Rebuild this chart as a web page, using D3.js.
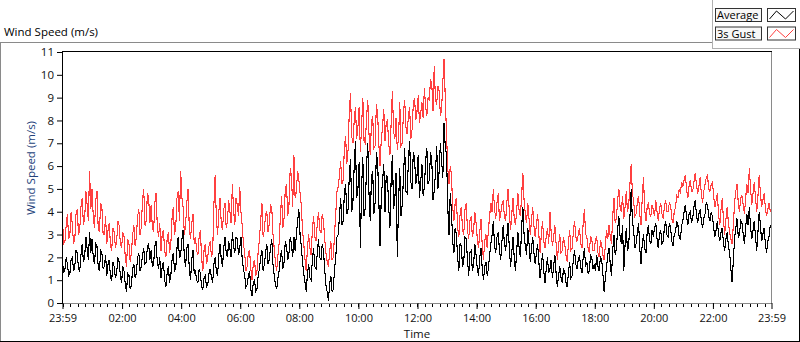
<!DOCTYPE html>
<html><head><meta charset="utf-8">
<script src="https://cdn.jsdelivr.net/npm/d3@7"></script>
<style>
body{margin:0;background:#fff;}
svg{display:block;font-family:"Open Sans","Noto Sans",sans-serif;}
</style>
</head><body><svg id="c" width="800" height="342"></svg>
<script>
// ---- data (2.5-minute samples from 23:59 to 23:59 next day, one row per hour) ----
const seriesNames = ["Average", "3s Gust"];
const average = [
1.8,1.3,1.5,2.0,1.7,1.2,1.3,1.9,2.0,1.4,1.6,2.3,2.2,1.5,1.4,2.1,2.6,1.8,2.0,2.9,2.4,1.9,3.1,2.2,
2.8,2.0,1.7,2.6,2.5,1.6,1.4,2.3,2.2,1.5,1.6,2.1,1.2,1.7,1.9,1.1,1.0,1.8,1.6,1.1,1.3,2.0,1.8,1.2,
0.9,1.6,1.4,0.8,0.5,1.3,1.2,0.6,0.8,1.5,1.7,1.1,1.3,2.0,2.2,1.4,1.6,2.1,2.4,1.7,1.8,2.5,2.6,1.9,
2.3,1.6,1.7,2.5,2.7,1.8,1.5,2.0,1.1,1.6,1.8,1.0,0.7,1.3,1.6,0.9,1.2,1.9,2.2,1.4,1.5,2.4,2.9,2.0,
2.1,2.8,3.2,2.0,1.6,2.4,2.6,1.5,1.0,1.9,2.3,1.3,1.4,1.0,0.9,1.5,1.3,0.7,0.6,1.1,1.2,0.7,0.8,1.3,
1.5,1.1,0.9,1.7,2.0,1.4,1.2,2.1,2.6,1.9,1.6,2.4,2.9,2.2,2.0,2.7,2.4,2.0,3.1,2.5,2.2,2.9,2.8,2.1,
2.4,2.9,1.9,1.5,1.2,0.7,0.8,1.2,1.4,0.6,0.3,0.9,1.0,0.5,0.6,1.2,1.5,2.0,2.3,1.4,1.7,2.2,2.6,1.7,
1.9,2.4,2.8,1.7,1.2,0.8,0.6,1.1,1.4,2.0,2.3,1.5,1.8,2.7,2.5,1.9,2.2,2.9,2.6,2.0,2.9,2.3,3.0,3.6,
4.1,3.0,2.5,1.8,1.3,0.9,0.5,1.3,1.7,1.1,1.0,1.9,2.4,1.6,1.5,2.2,2.8,2.0,1.9,2.6,2.3,1.5,0.8,0.5,
0.1,0.8,1.2,0.5,0.6,1.5,2.0,2.9,3.0,3.8,4.6,3.4,3.6,4.8,5.2,3.9,4.1,5.6,6.3,4.0,4.5,6.0,7.1,4.6,
5.0,6.2,2.4,5.1,6.4,3.8,4.2,6.0,7.0,4.8,3.6,5.5,5.8,3.9,4.4,6.6,6.2,4.5,2.5,4.7,5.3,6.1,4.0,5.6,
5.5,4.2,3.3,5.4,6.5,4.1,4.6,5.7,2.0,4.4,5.9,3.8,4.3,5.5,6.8,4.9,4.8,6.2,7.1,5.3,5.0,6.6,6.4,5.2,
5.6,6.5,4.6,5.3,6.1,4.7,5.1,6.2,6.8,5.2,5.4,6.6,6.3,4.5,4.9,5.7,6.9,5.0,5.8,7.0,6.2,5.5,7.9,6.8,
6.5,4.2,3.0,4.8,4.0,2.7,2.2,3.3,3.0,2.0,1.4,2.6,2.5,1.6,1.8,2.9,2.8,1.9,1.2,2.2,2.3,1.4,1.7,2.6,
2.1,1.5,1.2,2.0,2.4,1.5,1.0,1.6,1.8,1.2,1.5,2.1,2.6,3.0,3.6,2.5,2.2,2.9,3.1,2.3,1.9,2.7,3.4,2.6,
2.3,2.9,3.5,2.4,1.6,2.2,2.9,2.0,1.4,2.3,3.1,2.4,2.0,3.3,4.2,3.0,2.5,2.1,3.3,2.6,1.8,2.4,2.9,2.2,
1.7,2.2,2.6,1.8,1.1,1.6,2.2,1.4,0.9,1.5,2.0,1.3,1.5,1.9,1.1,1.6,2.1,1.3,0.7,1.2,1.6,1.1,0.9,1.5,
1.4,0.9,0.7,1.3,1.8,1.1,1.2,1.9,2.3,1.7,1.5,1.9,2.1,1.6,1.3,2.0,2.4,1.6,1.8,1.3,1.4,2.1,2.0,1.5,
1.7,1.4,2.1,1.6,1.4,2.0,1.9,1.3,0.5,1.1,1.6,2.1,2.4,1.7,1.2,2.3,3.0,2.1,2.4,3.2,3.8,2.9,2.6,3.4,
1.4,2.5,3.3,2.3,2.5,3.8,5.0,3.6,3.2,2.4,2.6,3.1,3.5,2.4,1.7,2.6,3.0,2.4,2.2,3.1,3.4,2.7,2.6,3.2,
2.9,3.3,3.5,2.8,2.4,3.0,3.2,2.6,2.7,3.3,3.6,3.0,2.9,3.5,3.3,2.7,2.5,3.0,3.1,3.6,3.4,2.9,2.8,3.4,
3.6,4.0,4.3,3.8,3.4,3.9,4.0,3.5,3.7,4.2,4.5,3.9,3.5,3.9,4.1,3.6,3.3,3.7,3.9,4.4,4.3,3.8,3.6,4.0,
3.8,3.3,2.9,3.2,3.6,3.0,2.7,3.1,3.3,2.6,2.3,2.8,3.1,2.5,2.2,1.5,0.9,1.9,2.8,3.3,3.7,2.9,3.0,3.6,
3.5,3.0,2.6,3.3,3.9,3.4,4.2,3.3,2.8,3.2,3.6,2.9,2.3,3.1,4.0,3.4,2.7,3.0,3.3,2.6,2.2,2.7,2.9,3.4
];
const gust = [
3.6,2.6,2.7,3.4,3.9,2.8,3.0,4.0,3.4,2.6,2.8,3.9,4.1,3.0,3.2,4.2,4.6,3.4,3.7,4.9,4.3,3.6,5.8,4.1,
5.0,3.8,3.3,4.5,4.9,3.3,3.1,4.4,4.2,3.0,3.0,3.8,2.6,3.2,3.5,2.5,2.3,3.3,3.1,2.4,2.7,3.6,3.4,2.6,
2.4,3.1,2.9,2.0,1.6,2.8,2.6,1.8,2.2,3.0,3.4,2.5,2.9,3.8,4.1,3.0,3.3,4.5,5.0,3.4,3.6,4.8,4.6,3.5,
4.3,3.3,3.1,4.4,4.8,3.4,2.9,3.5,2.3,3.0,3.2,2.3,2.0,2.8,3.1,2.2,2.6,3.7,4.2,3.0,3.3,4.6,4.9,3.6,
5.8,4.6,4.2,3.0,3.4,4.4,5.0,3.3,2.8,3.5,3.9,2.6,2.9,2.3,2.1,2.9,3.2,2.0,1.4,2.3,2.6,1.7,2.0,2.5,
2.7,2.0,2.2,4.3,5.6,3.7,3.0,4.0,4.6,3.5,3.2,4.1,4.4,3.3,3.6,4.5,4.0,3.5,5.2,4.1,3.4,4.6,4.3,3.8,
5.1,4.0,3.4,2.6,2.2,1.4,1.6,2.2,2.3,1.5,1.0,1.7,1.9,1.2,1.4,2.3,2.8,3.6,4.4,2.9,3.2,3.9,4.0,3.1,
3.5,4.3,4.2,3.0,2.4,1.8,1.4,2.1,2.6,3.8,4.7,3.3,3.7,5.0,5.2,3.8,4.3,5.9,5.6,4.2,6.5,4.6,4.9,5.8,
5.4,4.8,4.3,3.2,2.6,1.9,1.4,2.4,3.0,2.4,2.1,3.2,3.8,2.9,2.7,3.5,4.0,3.2,3.1,3.9,3.6,2.8,2.2,1.8,
1.6,2.2,2.7,1.9,2.0,3.0,3.9,4.9,5.1,5.6,6.2,5.2,5.4,6.8,7.3,6.1,6.7,8.4,9.2,7.3,7.0,8.0,8.6,7.2,
7.7,8.6,6.6,7.8,9.0,7.1,7.0,8.1,8.9,7.4,6.5,7.9,8.2,6.8,6.9,8.7,8.3,7.0,6.0,7.2,7.7,8.5,7.1,7.9,
8.0,7.0,6.5,7.9,9.3,7.5,7.2,8.1,6.7,7.3,8.8,6.9,7.0,8.4,8.9,7.7,7.4,8.2,8.6,7.2,7.6,8.7,9.0,8.0,
8.4,9.1,7.9,8.3,8.8,8.1,9.4,8.6,8.2,9.0,8.9,9.8,9.6,8.4,10.4,8.9,8.7,9.5,9.3,8.2,8.5,9.7,10.7,8.9,
7.4,5.9,5.2,6.0,5.6,4.2,3.6,4.4,4.6,3.3,2.9,3.9,4.2,3.2,3.0,4.1,4.4,3.2,2.8,3.6,3.8,2.9,3.2,4.0,
3.5,2.8,2.4,3.1,3.7,2.5,1.9,2.7,3.0,2.4,3.2,3.8,4.4,4.0,5.0,4.1,3.7,4.4,4.8,3.6,3.9,4.3,4.5,3.8,
3.6,4.4,5.0,4.0,3.2,3.9,4.6,3.7,3.4,4.1,4.8,4.0,3.8,4.7,5.7,4.5,3.9,3.5,4.4,3.7,3.0,3.6,4.2,3.4,
2.9,3.4,3.9,3.0,2.2,3.0,3.6,2.7,2.4,2.9,3.3,2.6,4.0,3.1,2.5,2.9,3.4,2.6,1.9,2.5,3.0,2.2,2.3,2.9,
2.6,2.1,1.8,2.6,3.2,2.3,2.4,3.1,3.6,2.9,2.7,3.0,3.3,2.6,2.4,3.5,4.1,3.0,2.9,2.4,2.2,2.9,2.8,2.3,
2.3,2.8,2.9,2.2,2.0,2.7,2.6,2.1,1.9,2.5,3.2,2.8,3.4,2.9,2.6,3.8,4.6,3.5,3.7,4.5,5.0,4.2,4.0,4.7,
3.7,4.2,4.9,4.0,4.3,5.2,6.1,4.8,4.5,3.8,3.9,4.4,4.7,3.9,3.4,4.6,5.5,4.1,3.6,4.2,4.4,3.9,3.8,4.3,
4.1,3.8,4.5,4.0,3.6,4.1,4.4,3.9,3.7,4.2,4.5,4.0,4.0,4.4,4.3,3.7,3.5,4.0,4.2,4.7,4.6,5.0,4.8,5.3,
5.1,5.4,5.6,5.0,4.6,5.1,5.4,4.9,4.9,5.3,5.7,5.2,4.8,5.1,5.5,4.8,4.4,4.9,5.2,5.5,5.6,5.0,4.9,5.2,
5.3,4.7,4.2,4.5,4.8,3.9,3.4,4.1,4.6,3.6,3.0,3.7,4.2,3.5,3.1,2.8,2.6,3.4,4.4,4.9,5.2,4.4,4.0,4.6,
4.7,4.3,3.9,4.6,5.2,4.8,5.9,5.0,4.3,4.8,5.3,4.6,4.0,4.7,5.6,4.8,4.2,4.5,4.8,4.2,3.8,4.1,4.4,4.0
];
const sampleMinutes = 2.5;
const yTicks = [0,1,2,3,4,5,6,7,8,9,10,11];
const xTickLabels = ["23:59","02:00","04:00","06:00","08:00","10:00","12:00","14:00","16:00","18:00","20:00","22:00","23:59"];
const titleText = "Wind Speed (m/s)";
const yTitle = "Wind Speed (m/s)";
const xTitle = "Time";

// ---- layout ----
const svg = d3.select("#c");
const L = 62, R = 772, T = 52, B = 303;
const t0 = new Date(2020, 0, 1, 23, 59);
const t1 = new Date(2020, 0, 2, 23, 59);
const x = d3.scaleTime().domain([t0, t1]).range([L + 0.5, R - 0.5]);
const y = d3.scaleLinear().domain([0, 11]).range([B, T]);
const tAt = i => new Date(t0.getTime() + i * sampleMinutes * 60000);

// outer panel
svg.append("rect").attr("x",0).attr("y",0).attr("width",800).attr("height",342).attr("fill","#fff");
const grey = "#8a8a8a";
svg.append("line").attr("x1",0).attr("x2",712).attr("y1",42.5).attr("y2",42.5).attr("stroke",grey);
svg.append("line").attr("x1",0.5).attr("x2",0.5).attr("y1",42).attr("y2",342).attr("stroke",grey);
svg.append("line").attr("x1",0).attr("x2",800).attr("y1",341.5).attr("y2",341.5).attr("stroke","#000");
svg.append("line").attr("x1",799.5).attr("x2",799.5).attr("y1",49).attr("y2",342).attr("stroke","#000");
// legend container edges
svg.append("line").attr("x1",712.5).attr("x2",712.5).attr("y1",0).attr("y2",49).attr("stroke","#b0b0b0");
svg.append("line").attr("x1",712).attr("x2",800).attr("y1",48.5).attr("y2",48.5).attr("stroke","#b0b0b0");

// title
svg.append("text").attr("x",4).attr("y",36).attr("font-size","11.5px").attr("fill","#000").text(titleText);

// clip
svg.append("clipPath").attr("id","clip").append("rect").attr("x",L).attr("y",T).attr("width",R-L).attr("height",B-T+1);

const line = d3.line().x((d,i)=>x(tAt(i))).y(d=>y(d));
const g = svg.append("g").attr("clip-path","url(#clip)");
g.append("path").datum(gust).attr("d",line).attr("fill","none").attr("stroke","#ff4040")
  .attr("stroke-width",1.1).attr("shape-rendering","crispEdges");
g.append("path").datum(average).attr("d",line).attr("fill","none").attr("stroke","#000")
  .attr("stroke-width",1.1).attr("shape-rendering","crispEdges");

// frame
svg.append("line").attr("x1",L).attr("x2",R).attr("y1",B+0.5).attr("y2",B+0.5).attr("stroke",grey);
svg.append("line").attr("x1",R-0.5).attr("x2",R-0.5).attr("y1",T).attr("y2",B+1).attr("stroke",grey);
svg.append("line").attr("x1",L).attr("x2",R).attr("y1",T-0.5).attr("y2",T-0.5).attr("stroke","#000");
svg.append("line").attr("x1",L+0.5).attr("x2",L+0.5).attr("y1",T-1).attr("y2",B+1).attr("stroke","#000");

// y axis
const yAxis = d3.axisLeft(y).tickValues(yTicks).tickSize(5).tickPadding(3).tickFormat(d3.format("d"));
const ya = svg.append("g").attr("transform",`translate(${L},0)`).call(yAxis);
ya.select(".domain").remove();
ya.selectAll("line").attr("stroke","#000");
ya.selectAll("text").attr("font-size","11.5px").attr("font-family","'Open Sans',sans-serif").attr("fill","#111");

// x axis: minor ticks every 15 min
const minor = d3.timeMinute.every(15).range(t0, t1);
svg.append("g").selectAll("line").data(minor).join("line")
  .attr("x1",d=>Math.round(x(d))+0.5).attr("x2",d=>Math.round(x(d))+0.5)
  .attr("y1",B+1).attr("y2",B+4).attr("stroke","#000");
const majors = [t0, ...d3.timeHour.every(2).range(new Date(2020,0,2,1,0), t1), t1];
const xAxis = d3.axisBottom(x).tickValues(majors).tickSize(6).tickPadding(5)
  .tickFormat((d,i)=>xTickLabels[i]);
const xa = svg.append("g").attr("transform",`translate(0,${B})`).call(xAxis);
xa.select(".domain").remove();
xa.selectAll("line").attr("stroke","#000");
xa.selectAll("text").attr("font-size","11px").attr("font-family","'Open Sans',sans-serif").attr("fill","#111");

// axis titles
svg.append("text").attr("transform","translate(35,168) rotate(-90)").attr("text-anchor","middle")
  .attr("font-size","11.5px").attr("fill","#24427a").text(yTitle);
svg.append("text").attr("x",(L+R)/2).attr("y",338).attr("text-anchor","middle")
  .attr("font-size","11.5px").attr("fill","#111").text(xTitle);

// legend
const legColors = ["#000","#ff4040"];
seriesNames.forEach((name,i)=>{
  const yy = 8 + i*18.5;
  svg.append("rect").attr("x",715.5).attr("y",yy+0.5).attr("width",46).attr("height",13)
    .attr("fill","#f7f7f7").attr("stroke","#333");
  svg.append("text").attr("x",717).attr("y",yy+11).attr("font-size","11px").attr("fill","#000").text(name);
  svg.append("rect").attr("x",767.5).attr("y",yy+0.5).attr("width",28).attr("height",13)
    .attr("fill","#fff").attr("stroke","#333");
  svg.append("polyline").attr("points",`769.5,${yy+11} 776.5,${yy+3} 785.5,${yy+11} 793.5,${yy+3}`)
    .attr("fill","none").attr("stroke",legColors[i]).attr("stroke-width",1);
});
</script>
</body></html>
